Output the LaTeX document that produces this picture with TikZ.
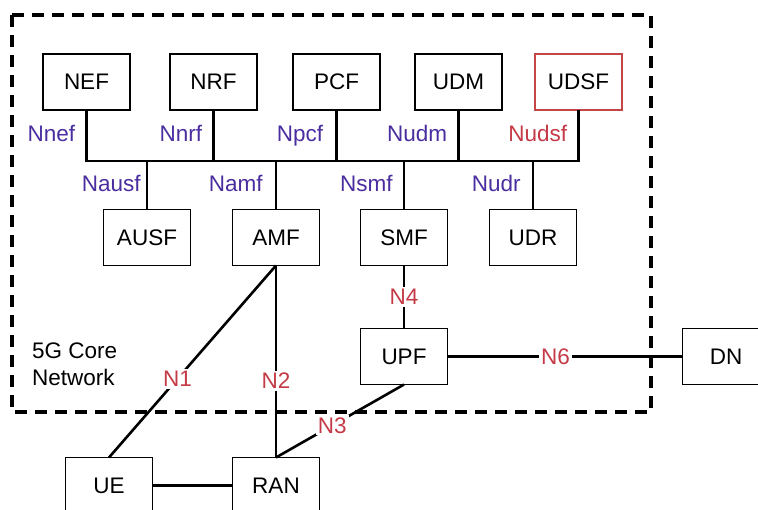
\documentclass[tikz,border=0pt]{standalone}
\usepackage{fontspec}
\setmainfont{Liberation Sans}
\usetikzlibrary{positioning}

\begin{document}
\begin{tikzpicture}[
    x=1pt, y=-1pt,
    font=\fontsize{22.5}{27}\selectfont,
    nfbox/.style n args={1}{
        rectangle, draw=#1, line width=1.3pt, fill=white,
        minimum width=87pt, minimum height=56pt,
        inner sep=0pt, outer sep=0pt
    },
    link/.style={
        line width=2.6pt, black
    },
    corebox/.style={
        line width=3.4pt, dash pattern=on 12pt off 8pt
    },
    iflab/.style n args={1}{
        text=#1, inner sep=0pt, text height=16pt, text depth=4pt
    },
    reflab/.style={
        text=nred, fill=white, inner sep=2pt
    },
]

\definecolor{nblue}{RGB}{74,46,160}
\definecolor{nred}{RGB}{196,58,70}
\definecolor{ubox}{RGB}{196,70,70}

\clip (0,0) rectangle (758,510);
\fill[white] (0,0) rectangle (758,510);

% ============================================================
% Core network frame
% ============================================================

\draw[corebox] (12,15) rectangle (651,412);
\node[anchor=north west, align=left, inner sep=0pt] (core) at (32,343)
    {5G Core\\Network};

% ============================================================
% Top row
% ============================================================

\node[nfbox={black}] (NEF) at (86.5,82) {NEF};
\node[nfbox={black}, right=40pt of NEF] (NRF) {NRF};
\node[nfbox={black}, right=36pt of NRF] (PCF) {PCF};
\node[nfbox={black}, right=35pt of PCF] (UDM) {UDM};
\node[nfbox={ubox}, right=33pt of UDM] (UDSF) {UDSF};

% ============================================================
% Bottom row
% ============================================================

\node[nfbox={black}] (AUSF) at (147,237.5) {AUSF};
\node[nfbox={black}, right=42pt of AUSF] (AMF) {AMF};
\node[nfbox={black}, right=41pt of AMF] (SMF) {SMF};
\node[nfbox={black}, right=42pt of SMF] (UDR) {UDR};

\node[nfbox={black}, below=63pt of SMF] (UPF) {UPF};
\node[nfbox={black}, right=235pt of UPF] (DN) {DN};

\node[nfbox={black}, below=192pt of AMF] (RAN) {RAN};
\node[nfbox={black}, left=80pt of RAN] (UE) {UE};

% ============================================================
% Service based bus
% ============================================================

\coordinate (bus) at (0,161);

\draw[link] (NEF.south) -- (NEF.south |- bus) -- (UDSF.south |- bus) -- (UDSF.south);

\draw[link] (NEF.south) -- node[midway, left=10pt, iflab={nblue}] {Nnef} (NEF.south |- bus);
\draw[link] (NRF.south) -- node[midway, left=10pt, iflab={nblue}] {Nnrf} (NRF.south |- bus);
\draw[link] (PCF.south) -- node[midway, left=12pt, iflab={nblue}] {Npcf} (PCF.south |- bus);
\draw[link] (UDM.south) -- node[midway, left=10pt, iflab={nblue}] {Nudm} (UDM.south |- bus);
\draw[link] (UDSF.south) -- node[midway, left=10pt, iflab={nred}] {Nudsf} (UDSF.south |- bus);

\draw[link] (AUSF.north |- bus) -- node[midway, left=5pt, iflab={nblue}] {Nausf} (AUSF.north);
\draw[link] (AMF.north |- bus) -- node[midway, left=12pt, iflab={nblue}] {Namf} (AMF.north);
\draw[link] (SMF.north |- bus) -- node[midway, left=10pt, iflab={nblue}] {Nsmf} (SMF.north);
\draw[link] (UDR.north |- bus) -- node[midway, left=11pt, iflab={nblue}] {Nudr} (UDR.north);

% ============================================================
% Reference points
% ============================================================

\draw[link] (AMF.south) -- node[pos=0.59, reflab] {N1} (UE.north);
\draw[link] (AMF.south) -- node[pos=0.6, reflab] {N2} (RAN.north);
\draw[link] (UPF.south) -- node[pos=0.56, reflab] {N3} (RAN.north);
\draw[link] (SMF.south) -- node[midway, reflab] {N4} (UPF.north);
\draw[link] (UPF.east) -- node[pos=0.46, reflab] {N6} (DN.west);
\draw[link] (UE.east) -- (RAN.west);

\end{tikzpicture}
\end{document}
